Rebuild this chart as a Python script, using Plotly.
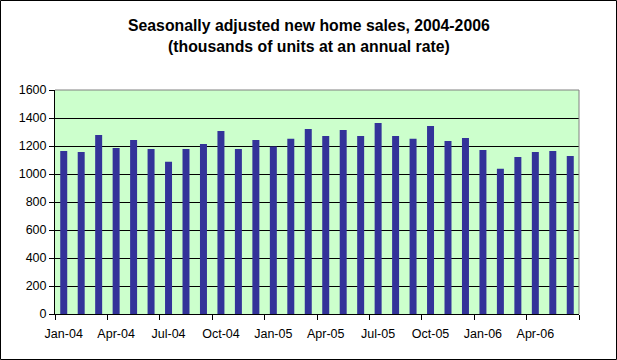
import plotly.graph_objects as go

months = ["Jan-04","Feb-04","Mar-04","Apr-04","May-04","Jun-04","Jul-04","Aug-04","Sep-04","Oct-04","Nov-04","Dec-04",
          "Jan-05","Feb-05","Mar-05","Apr-05","May-05","Jun-05","Jul-05","Aug-05","Sep-05","Oct-05","Nov-05","Dec-05",
          "Jan-06","Feb-06","Mar-06","Apr-06","May-06","Jun-06"]
sales = [1165,1158,1279,1186,1243,1179,1087,1179,1215,1308,1179,1243,
         1196,1251,1322,1272,1315,1272,1365,1272,1251,1343,1236,1258,
         1172,1037,1122,1158,1165,1129]
y_ticks = [0,200,400,600,800,1000,1200,1400,1600]
title_lines = ["Seasonally adjusted new home sales, 2004-2006",
               "(thousands of units at an annual rate)"]

W, H = 617, 360
ml, mr, mt, mb = 55, 38, 90, 46
pw, ph = W - ml - mr, H - mt - mb

xs = list(range(len(months)))

fig = go.Figure(go.Bar(x=xs, y=sales, marker=dict(color="#333399", line=dict(width=0)), width=0.4,
                       hoverinfo="skip"))

font = "Liberation Sans, Arial, sans-serif"
fig.update_layout(
    width=W, height=H,
    margin=dict(l=ml, r=mr, t=mt, b=mb),
    paper_bgcolor="white", plot_bgcolor="#CCFFCC",
    font=dict(family=font, size=12.5, color="black"),
    showlegend=False,
    xaxis=dict(range=[-0.5, len(months)-0.5], tickvals=xs[::3], ticktext=months[::3],
               ticks="", showgrid=False, zeroline=False,
               showline=True, linecolor="black", linewidth=1, ticklabelstandoff=8,
               minor=dict(ticks="outside", tick0=-0.5, dtick=3, ticklen=5, tickcolor="black", showgrid=False),
               tickfont=dict(size=12.5)),
    yaxis=dict(range=[0, 1600], tickvals=y_ticks, ticks="outside", ticklen=5, tickcolor="black",
               showgrid=True, gridcolor="black", gridwidth=1, zeroline=False,
               showline=True, linecolor="black", linewidth=1, tickfont=dict(size=12.5)),
)

# grey top and right plot-area border
fig.add_shape(type="line", xref="paper", yref="paper", x0=0, x1=1, y0=1, y1=1,
              line=dict(color="#808080", width=1), layer="above")
fig.add_shape(type="line", xref="paper", yref="paper", x0=1, x1=1, y0=0, y1=1,
              line=dict(color="#808080", width=1), layer="above")
# outer black chart border
fig.add_shape(type="rect", xref="paper", yref="paper",
              x0=(0.5 - ml)/pw, x1=(W - 0.5 - ml)/pw,
              y0=(0.5 - mb)/ph, y1=(H - 0.5 - mb)/ph,
              line=dict(color="black", width=1), layer="above")

for txt, py in zip(title_lines, [25, 46]):
    fig.add_annotation(text="<b>%s</b>" % txt, xref="paper", yref="paper",
                       x=(W/2 - ml)/pw, y=(H - mb - py)/ph, xanchor="center", yanchor="middle",
                       showarrow=False, font=dict(family=font, size=15.8, color="black"))

fig.write_html("out.html", config={"displayModeBar": False},
               post_script="document.body.style.margin='0';document.body.style.padding='0';")
